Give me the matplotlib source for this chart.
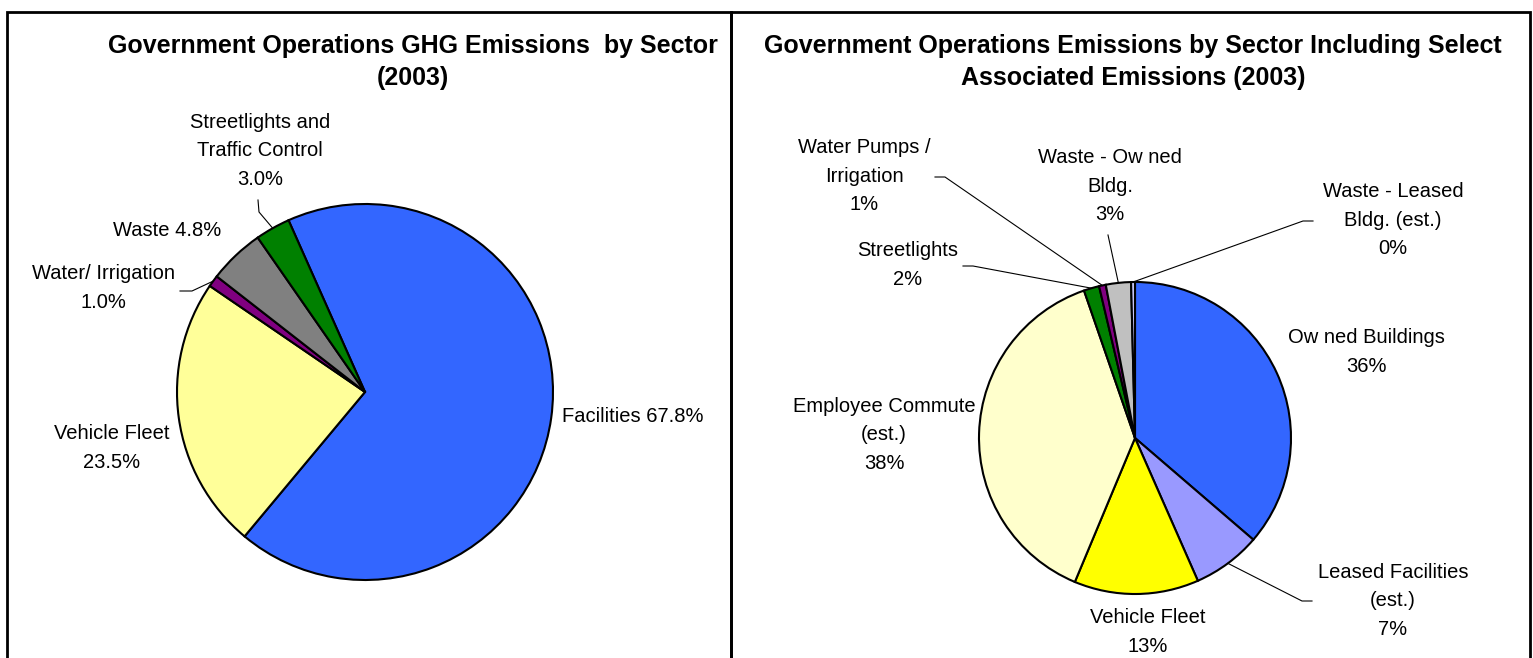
import matplotlib.pyplot as plt
import numpy as np
from matplotlib.patches import Rectangle

plt.rcParams['font.family'] = ['Liberation Sans', 'DejaVu Sans']

W, H = 1533, 658

# left chart data
left_title = 'Government Operations GHG Emissions  by Sector\n(2003)'
left_labels = ['Facilities', 'Vehicle Fleet', 'Water/ Irrigation', 'Waste',
               'Streetlights and\nTraffic Control']
left_values = [67.8, 23.5, 1.0, 4.8, 3.0]
left_colors = ['#3366FF', '#FFFF99', '#800080', '#808080', '#008000']

# right chart data
right_title = 'Government Operations Emissions by Sector Including Select\nAssociated Emissions (2003)'
right_labels = ['Ow ned Buildings', 'Leased Facilities\n(est.)', 'Vehicle Fleet',
                'Employee Commute\n(est.)', 'Streetlights', 'Water Pumps /\nIrrigation',
                'Waste - Ow ned\nBldg.', 'Waste - Leased\nBldg. (est.)']
right_values = [36.3, 7.1, 12.9, 38.4, 1.6, 0.7, 2.6, 0.4]
right_colors = ['#3366FF', '#9999FF', '#FFFF00', '#FFFFCC', '#008000', '#800080',
                '#C0C0C0', '#CCCCFF']

fig = plt.figure(figsize=(15.33, 6.58), dpi=100)
ax = fig.add_axes([0, 0, 1, 1])

# panel frames (pixels, y from top)
ax.add_patch(Rectangle((7, -20), 724, H - 12 + 20, fill=False, lw=2, ec='black'))
ax.add_patch(Rectangle((731, -20), 799, H - 12 + 20, fill=False, lw=2, ec='black'))

fs = 14.5
ls = 1.65


def draw_pie(values, colors, labels, fmt, seps, cx, cy, r, start, label_pos, leaders):
    wedges, _ = ax.pie(values, colors=colors, startangle=start, counterclock=False,
                       center=(cx, H - cy), radius=r,
                       wedgeprops=dict(edgecolor='black', linewidth=1.5))
    for i, w in enumerate(wedges):
        pct = format(values[i], fmt) + '%'
        x, y = label_pos[i]
        ax.text(x, H - y, labels[i] + seps[i] + pct, ha='center', va='center',
                fontsize=fs, linespacing=ls)
        if i in leaders:
            mid = np.deg2rad((w.theta1 + w.theta2) / 2)
            pts = [(px, H - py) for px, py in leaders[i]]
            pts.append((cx + r * np.cos(mid), H - cy + r * np.sin(mid)))
            xs, ys = zip(*pts)
            ax.plot(xs, ys, color='black', lw=0.8)


draw_pie(left_values, left_colors, left_labels, '.1f',
         [' ', '\n', '\n', ' ', '\n'], 365, 392, 188, 114,
         [(633, 417), (112, 448), (103, 288), (167, 231), (260, 151)],
         {2: [(180, 291), (192, 291)], 4: [(258, 200), (259, 212)]})

draw_pie(right_values, right_colors, right_labels, '.0f',
         ['\n'] * 8, 1135, 438, 156, 90,
         [(1366, 352), (1393, 601), (1148, 632), (884, 435), (908, 265),
          (864, 176), (1110, 186), (1393, 220)],
         {1: [(1312, 601), (1302, 601)], 4: [(963, 266), (973, 266)],
          5: [(935, 177), (945, 177)], 6: [(1108, 235)],
          7: [(1313, 221), (1303, 221)]})

ax.text(413, H - 62, left_title, ha='center', va='center', fontsize=18,
        fontweight='bold', linespacing=1.45)
ax.text(1133, H - 62, right_title, ha='center', va='center', fontsize=18,
        fontweight='bold', linespacing=1.45)

ax.set_xlim(0, W)
ax.set_ylim(0, H)
ax.set_aspect('auto')
ax.axis('off')

fig.savefig('out.png', dpi=100)
